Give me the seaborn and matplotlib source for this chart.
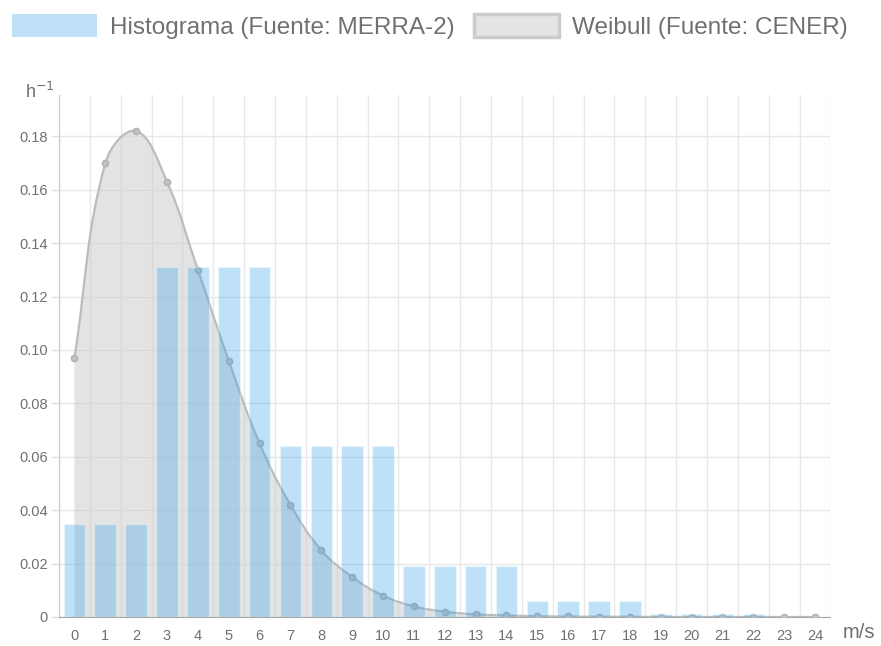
import numpy as np
import matplotlib.pyplot as plt
import seaborn as sns
from matplotlib.path import Path
from matplotlib.patches import PathPatch, Patch

# datos
velocidad = list(range(25))
etiquetas = [str(v) for v in velocidad]
histograma = [0.035, 0.035, 0.035, 0.131, 0.131, 0.131, 0.131, 0.064, 0.064, 0.064,
              0.064, 0.019, 0.019, 0.019, 0.019, 0.006, 0.006, 0.006, 0.006, 0.001,
              0.001, 0.001, 0.001, 0.0, 0.0]
weibull = [0.097, 0.170, 0.182, 0.163, 0.130, 0.096, 0.065, 0.042, 0.025, 0.015,
           0.008, 0.004, 0.002, 0.001, 0.0006, 0.0003, 0.0002, 0.0001, 0.0001, 0.0,
           0.0, 0.0, 0.0, 0.0, 0.0]
yticks = [0, 0.02, 0.04, 0.06, 0.08, 0.10, 0.12, 0.14, 0.16, 0.18]

AZUL = '#36a2eb'
GRIS = '#c9c9c9'
TEXTO = '#707070'


def curva(xs, ys, t=0.4, sx=30.9, sy=2670.0):
    # curva suavizada tipo Chart.js (tension 0.4), calculada en escala de píxeles
    px = np.array(xs, dtype=float) * sx
    py = np.array(ys, dtype=float) * sy
    n = len(px)
    cps = []
    for i in range(n):
        p = max(i - 1, 0)
        q = min(i + 1, n - 1)
        d01 = np.hypot(px[i] - px[p], py[i] - py[p])
        d12 = np.hypot(px[q] - px[i], py[q] - py[i])
        tot = d01 + d12
        s01 = d01 / tot if tot else 0
        s12 = d12 / tot if tot else 0
        fa, fb = t * s01, t * s12
        c1 = (px[i] - fa * (px[q] - px[p]), py[i] - fa * (py[q] - py[p]))
        c2 = (px[i] + fb * (px[q] - px[p]), py[i] + fb * (py[q] - py[p]))
        cps.append((c1, c2))
    verts = [(xs[0], ys[0])]
    codes = [Path.MOVETO]
    for i in range(1, n):
        a = cps[i - 1][1]
        b = cps[i][0]
        verts += [(a[0] / sx, max(a[1], 0) / sy), (b[0] / sx, max(b[1], 0) / sy), (xs[i], ys[i])]
        codes += [Path.CURVE4] * 3
    return verts, codes


sns.set_style('white')
plt.rcParams['font.family'] = ['Liberation Sans', 'DejaVu Sans']

fig = plt.figure(figsize=(8.81, 6.46), dpi=100)
ax = fig.add_axes([59 / 881, 29 / 646, 771.5 / 881, 522 / 646])

# área Weibull
verts, codes = curva(velocidad, weibull)
relleno = PathPatch(Path(verts + [(velocidad[-1], 0), (velocidad[0], 0), (0, 0)],
                         codes + [Path.LINETO, Path.LINETO, Path.CLOSEPOLY]),
                    facecolor=GRIS, alpha=0.5, edgecolor='none', zorder=1)
ax.add_patch(relleno)
linea = PathPatch(Path(verts, codes), facecolor='none', edgecolor='#bcbcbc', lw=1.6, zorder=2)
ax.add_patch(linea)
sns.scatterplot(x=velocidad, y=weibull, color='#c2c2c2', edgecolor='#b0b0b0',
                s=20, linewidth=1, zorder=3, ax=ax, legend=False)

# histograma
sns.barplot(x=velocidad, y=histograma, color=AZUL, saturation=1, alpha=0.32,
            width=0.7, ax=ax, zorder=4)

ax.set_xlim(-0.5, 24.5)
ax.set_ylim(0, 0.1955)
ax.set_xticks(velocidad)
ax.set_xticklabels(etiquetas)
ax.set_xticks(np.arange(-0.5, 25, 1), minor=True)
ax.set_yticks(yticks)
ax.set_yticklabels(['0'] + [f'{v:.2f}' for v in yticks[1:]])
ax.set_xlabel('')
ax.set_ylabel('')

ax.grid(False)
ax.grid(True, which='minor', axis='x', color='#e8e8e8', lw=1)
ax.grid(True, which='major', axis='y', color='#e8e8e8', lw=1)
ax.set_axisbelow(True)

ax.tick_params(axis='x', which='major', length=0, pad=9, labelsize=10.5, labelcolor=TEXTO)
ax.tick_params(axis='x', which='minor', length=6, color='#e0e0e0', width=1)
ax.tick_params(axis='y', which='major', length=6, color='#e0e0e0', width=1, pad=2,
               labelsize=10.5, labelcolor=TEXTO, left=True)

for lado in ['top', 'right']:
    ax.spines[lado].set_visible(False)
ax.spines['left'].set_color('#c8c8c8')
ax.spines['bottom'].set_color('#a8a8a8')

fig.text(25 / 881, 1 - 92 / 646, 'h$^{-1}$', fontsize=13, color=TEXTO, ha='left', va='center')
fig.text(843 / 881, 1 - 633 / 646, 'm/s', fontsize=14.5, color=TEXTO, ha='left', va='center')

handles = [Patch(facecolor=AZUL, alpha=0.32, edgecolor='none'),
           Patch(facecolor='#e4e4e4', edgecolor='#cccccc', linewidth=2.5)]
fig.legend(handles, ['Histograma (Fuente: MERRA-2)', 'Weibull (Fuente: CENER)'],
           loc='upper left', bbox_to_anchor=(12 / 881, 1 - 14 / 646), ncol=2,
           frameon=False, borderpad=0, borderaxespad=0, handlelength=3.5,
           handleheight=1.05, handletextpad=0.55, columnspacing=0.76,
           fontsize=17.5, labelcolor=TEXTO)

fig.savefig('out.png', dpi=100)
